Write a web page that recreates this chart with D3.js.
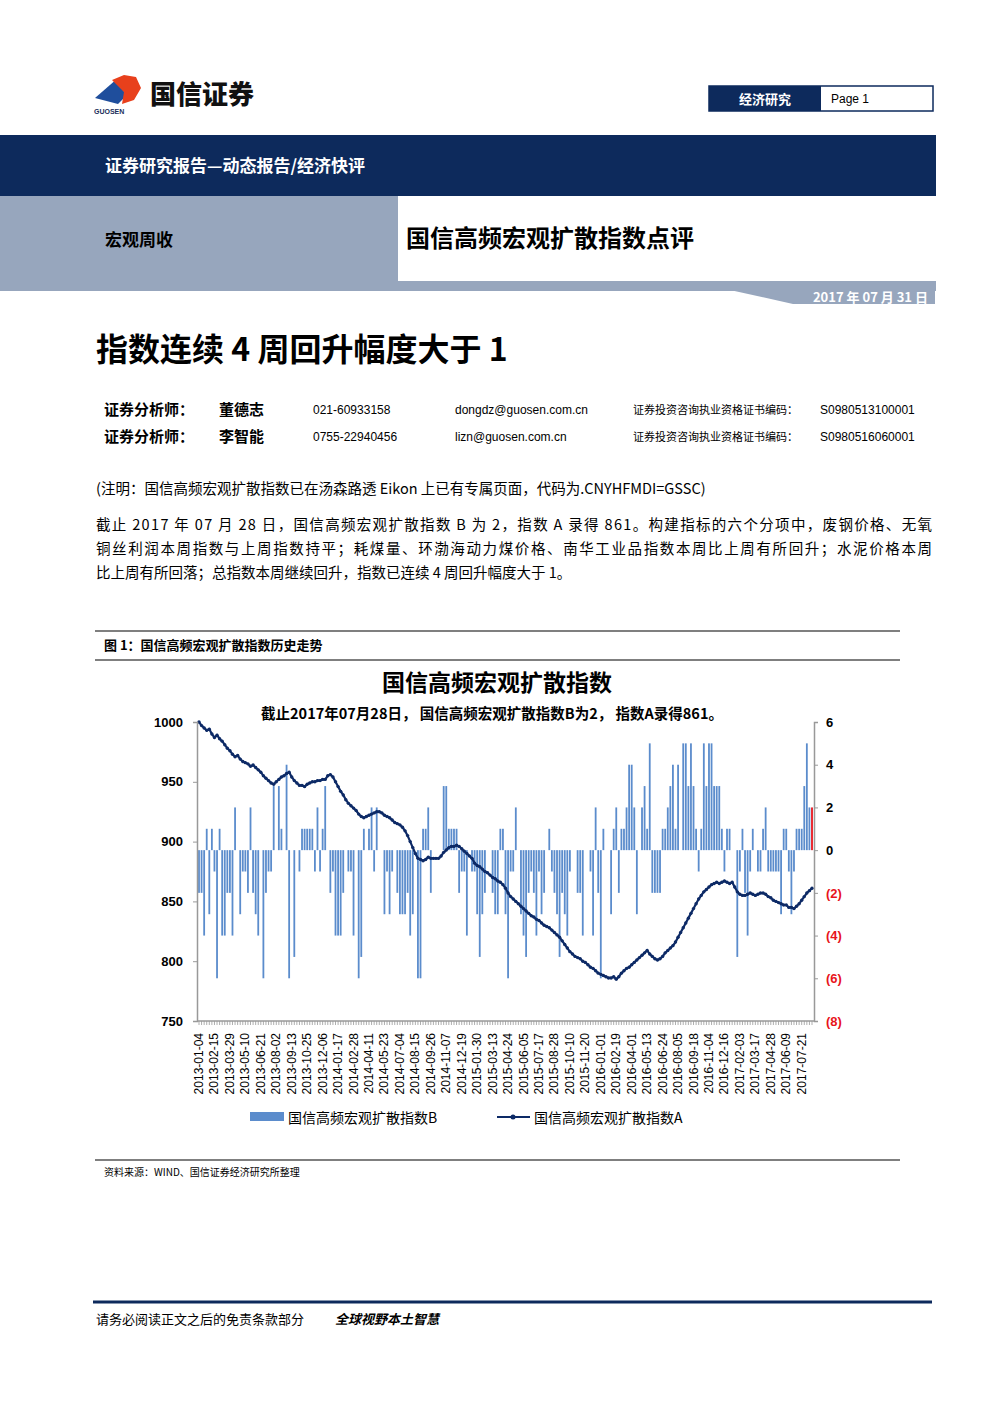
<!DOCTYPE html>
<html>
<head>
<meta charset="utf-8">
<script src="https://cdn.jsdelivr.net/npm/d3@7/dist/d3.min.js"></script>
<style>
  body { margin: 0; background: #fff; }
  svg text { font-family: "Noto Sans CJK SC", "Liberation Sans", sans-serif; }
  .latin { font-family: "Liberation Sans", Arial, sans-serif !important; }
</style>
</head>
<body>
<div id="page"></div>
<script>
// 指数A weekly values, 2013-01-04 .. 2017-07-28
const indexA = [
  1000,997,995,993,994,990,987,989,986,984,
  981,978,976,973,971,972,969,967,966,965,
  963,964,962,960,958,955,953,951,949,948,
  950,952,954,955,957,958,954,951,949,947,
  947,946,948,949,950,950,951,951,952,952,
  955,956,954,950,946,942,939,935,932,930,
  928,926,923,921,920,921,922,923,924,925,
  925,924,922,921,920,918,916,915,914,912,
  909,905,900,895,890,886,885,884,885,887,
  886,886,886,886,888,891,893,895,896,896,
  897,896,894,892,890,888,886,882,880,879,
  877,875,874,872,870,869,867,866,864,861,
  857,854,852,850,848,846,844,842,840,838,
  837,835,834,832,830,829,828,826,824,822,
  820,817,814,811,808,806,804,803,802,800,
  799,797,795,794,792,790,789,788,787,786,
  786,787,785,787,790,792,794,795,797,799,
  801,803,805,807,809,806,804,802,801,802,
  804,807,809,811,813,816,820,824,828,832,
  836,840,844,848,852,855,858,860,862,864,
  865,866,865,866,867,866,865,866,862,858,
  856,855,855,856,857,856,855,856,857,857,
  856,854,853,851,850,849,848,847,847,845,
  845,844,846,848,851,854,857,859,861
];
// 指数B weekly values
const indexB = [
  -2,-2,-4,1,-3,1,-1,-6,1,-4,
  -4,-2,-2,-4,2,0,-3,-1,-1,-2,
  2,-2,-3,-4,0,-6,-2,-1,-1,3,
  0,3,1,0,4,-6,0,-5,0,-1,
  1,1,1,1,1,-1,2,-1,1,3,
  0,-2,-1,-4,-4,-4,-2,0,-1,-1,
  -4,0,-6,-5,1,0,1,2,-1,2,
  0,0,-3,-1,-3,-1,0,-2,-3,-3,
  -3,-2,-4,-3,0,-6,-6,1,1,2,
  -2,0,0,0,0,3,3,1,1,1,1,
  -2,-1,-1,-4,0,-1,-1,-3,-5,-3,
  -2,0,0,-2,-3,-3,1,1,-3,-6,
  -1,-1,2,0,-3,-4,-5,-2,-1,-2,
  -4,-1,-3,-2,0,1,-1,-2,-3,-5,
  -2,-3,-4,-1,0,0,-2,-2,-4,0,0,
  -1,-4,2,-2,-6,1,0,0,-3,1,
  2,-2,1,1,2,4,4,2,-3,0,
  2,3,1,5,-2,-2,-2,-2,1,1,
  2,3,4,1,4,0,5,5,3,5,
  3,1,-1,1,5,3,5,5,3,3,
  3,1,-1,1,1,0,0,-5,-1,1,-2,
  -4,-1,1,0,-1,-1,1,2,-1,-1,
  -1,-1,-1,-3,1,1,-1,-3,-1,1,
  1,1,3,5,2,2
];
const tickLabels = [
  "2013-01-04","2013-02-15","2013-03-29","2013-05-10","2013-06-21","2013-08-02",
  "2013-09-13","2013-10-25","2013-12-06","2014-01-17","2014-02-28","2014-04-11",
  "2014-05-23","2014-07-04","2014-08-15","2014-09-26","2014-11-07","2014-12-19",
  "2015-01-30","2015-03-13","2015-04-24","2015-06-05","2015-07-17","2015-08-28",
  "2015-10-10","2015-11-20","2016-01-01","2016-02-19","2016-04-01","2016-05-13",
  "2016-06-24","2016-08-05","2016-09-18","2016-11-04","2016-12-16","2017-02-03",
  "2017-03-17","2017-04-28","2017-06-09","2017-07-21"
];
const leftTicks = [750, 800, 850, 900, 950, 1000];
const rightTicks = [-8, -6, -4, -2, 0, 2, 4, 6];

const W = 993, H = 1404;
const svg = d3.select("#page").append("svg").attr("width", W).attr("height", H);

// ---- page header ----
// logo
svg.append("path").attr("d", "M95,98 L118,78 L126,96 L118,104 Z").attr("fill", "#1f4e9c");
svg.append("path").attr("d", "M112,80 L124,75 L136,77 L141,88 L134,100 L122,104 L124,92 Z").attr("fill", "#e8401c");
svg.append("text").attr("x", 94).attr("y", 114).attr("font-size", 7).attr("font-weight", "bold")
  .attr("class", "latin").attr("fill", "#1a2e5a").text("GUOSEN");
svg.append("text").attr("x", 150).attr("y", 104).attr("font-size", 26).attr("font-weight", 900)
  .attr("fill", "#111").text("国信证券");

svg.append("rect").attr("x", 709).attr("y", 86).attr("width", 224).attr("height", 25)
  .attr("fill", "#fff").attr("stroke", "#0d2a5c").attr("stroke-width", 1.5);
svg.append("rect").attr("x", 709).attr("y", 86).attr("width", 112).attr("height", 25).attr("fill", "#0d2a5c");
svg.append("text").attr("x", 765).attr("y", 104).attr("text-anchor", "middle").attr("font-size", 13)
  .attr("font-weight", "bold").attr("fill", "#fff").text("经济研究");
svg.append("text").attr("x", 831).attr("y", 103).attr("font-size", 12).attr("class", "latin").text("Page 1");

svg.append("rect").attr("x", 0).attr("y", 135).attr("width", 936).attr("height", 61).attr("fill", "#0d2a5c");
svg.append("text").attr("x", 105).attr("y", 172).attr("font-size", 17).attr("font-weight", "bold")
  .attr("fill", "#fff").text("证券研究报告—动态报告/经济快评");
svg.append("rect").attr("x", 0).attr("y", 196).attr("width", 936).attr("height", 95).attr("fill", "#97a6bd");
svg.append("rect").attr("x", 398).attr("y", 196).attr("width", 538).attr("height", 85).attr("fill", "#fff");
svg.append("path").attr("d", "M730,290 L793,304 L935,304 L935,290 Z").attr("fill", "#97a6bd");
svg.append("text").attr("x", 105).attr("y", 246).attr("font-size", 17).attr("font-weight", "bold").text("宏观周收");
svg.append("text").attr("x", 406).attr("y", 247).attr("font-size", 24).attr("font-weight", "bold").text("国信高频宏观扩散指数点评");
svg.append("text").attr("x", 928).attr("y", 302).attr("text-anchor", "end").attr("font-size", 13)
  .attr("font-weight", "bold").attr("fill", "#fff").text("2017 年 07 月 31 日");

svg.append("text").attr("x", 96).attr("y", 361).attr("font-size", 32).attr("font-weight", "bold")
  .text("指数连续 4 周回升幅度大于 1");

[[410, "董德志", "021-60933158", "dongdz@guosen.com.cn", "S0980513100001"],
 [437, "李智能", "0755-22940456", "lizn@guosen.com.cn", "S0980516060001"]].forEach(r => {
  svg.append("text").attr("x", 104).attr("y", r[0] + 5).attr("font-size", 15).attr("font-weight", "bold").text("证券分析师：");
  svg.append("text").attr("x", 219).attr("y", r[0] + 5).attr("font-size", 15).attr("font-weight", "bold").text(r[1]);
  svg.append("text").attr("x", 313).attr("y", r[0] + 4).attr("font-size", 12).attr("class", "latin").text(r[2]);
  svg.append("text").attr("x", 455).attr("y", r[0] + 4).attr("font-size", 12).attr("class", "latin").text(r[3]);
  svg.append("text").attr("x", 633).attr("y", r[0] + 4).attr("font-size", 11).text("证券投资咨询执业资格证书编码：");
  svg.append("text").attr("x", 820).attr("y", r[0] + 4).attr("font-size", 12).attr("class", "latin").text(r[4]);
});

svg.append("text").attr("x", 96).attr("y", 494).attr("font-size", 14.5)
  .text("(注明：国信高频宏观扩散指数已在汤森路透 Eikon 上已有专属页面，代码为.CNYHFMDI=GSSC)");
["截止 2017 年 07 月 28 日，国信高频宏观扩散指数 B 为 2，指数 A 录得 861。构建指标的六个分项中，废钢价格、无氧",
 "铜丝利润本周指数与上周指数持平；耗煤量、环渤海动力煤价格、南华工业品指数本周比上周有所回升；水泥价格本周",
 "比上周有所回落；总指数本周继续回升，指数已连续 4 周回升幅度大于 1。"].forEach((t, i) => {
  svg.append("text").attr("x", 96).attr("y", 530 + i * 24).attr("font-size", 14.5)
    .attr("textLength", i < 2 ? 836 : null).text(t);
});

// ---- figure frame ----
svg.append("line").attr("x1", 95).attr("x2", 900).attr("y1", 631).attr("y2", 631).attr("stroke", "#000").attr("stroke-width", 1.2);
svg.append("line").attr("x1", 95).attr("x2", 900).attr("y1", 660).attr("y2", 660).attr("stroke", "#000").attr("stroke-width", 1.2);
svg.append("line").attr("x1", 95).attr("x2", 900).attr("y1", 1160).attr("y2", 1160).attr("stroke", "#000").attr("stroke-width", 1.2);
svg.append("text").attr("x", 104).attr("y", 650).attr("font-size", 13).attr("font-weight", "bold").text("图 1：国信高频宏观扩散指数历史走势");
svg.append("text").attr("x", 104).attr("y", 1176).attr("font-size", 10).text("资料来源：WIND、国信证券经济研究所整理");

svg.append("text").attr("x", 497).attr("y", 691).attr("text-anchor", "middle").attr("font-size", 23)
  .attr("font-weight", "bold").text("国信高频宏观扩散指数");
svg.append("text").attr("x", 492).attr("y", 719).attr("text-anchor", "middle").attr("font-size", 14.5)
  .attr("font-weight", "bold").text("截止2017年07月28日， 国信高频宏观扩散指数B为2， 指数A录得861。");

// ---- chart ----
const plot = { left: 197, right: 814, top: 722, bottom: 1021 };
const n = indexA.length;
const x = d3.scaleLinear().domain([0, n - 1]).range([plot.left + 2, plot.right - 2]);
const yL = d3.scaleLinear().domain([750, 1000]).range([plot.bottom, plot.top]);
const yR = d3.scaleLinear().domain([-8, 6]).range([plot.bottom, plot.top]);

const g = svg.append("g");

// bars
g.selectAll(".bar").data(indexB.slice(0, n)).enter().append("rect")
  .attr("x", (d, i) => x(i) - 0.9)
  .attr("width", 1.8)
  .attr("y", d => yR(Math.max(0, d)))
  .attr("height", d => Math.abs(yR(d) - yR(0)))
  .attr("fill", (d, i) => i === n - 1 ? "#e8141c" : "#5b8ccc");

// line
const line = d3.line().x((d, i) => x(i)).y(d => yL(d));
g.append("path").datum(indexA).attr("d", line).attr("fill", "none")
  .attr("stroke", "#0d2a66").attr("stroke-width", 2.2);
g.selectAll(".pt").data(indexA).enter().append("circle")
  .attr("cx", (d, i) => x(i)).attr("cy", d => yL(d)).attr("r", 1.7).attr("fill", "#0d2a66");

// axes
const axL = svg.append("g").attr("transform", `translate(${plot.left},0)`)
  .call(d3.axisLeft(yL).tickValues(leftTicks).tickSize(4).tickFormat(d3.format("d")));
const axR = svg.append("g").attr("transform", `translate(${plot.right},0)`)
  .call(d3.axisRight(yR).tickValues(rightTicks).tickSize(4).tickFormat(d => d < 0 ? `(${-d})` : d));
[axL, axR].forEach(a => {
  a.select(".domain").attr("stroke", "#999").attr("stroke-width", 1.5);
  a.selectAll(".tick line").attr("stroke", "#999");
  a.selectAll("text").attr("class", "latin").attr("font-size", 13).attr("font-weight", "bold");
});
axL.selectAll("text").attr("x", -14).attr("fill", "#000");
axR.selectAll("text").attr("x", 12).attr("fill", d => d < 0 ? "#e8141c" : "#000");

// x axis
const xAx = svg.append("g").attr("transform", `translate(0,${plot.bottom})`);
xAx.append("line").attr("x1", plot.left).attr("x2", plot.right).attr("stroke", "#999").attr("stroke-width", 1.5);
xAx.selectAll(".t").data(d3.range(n)).enter().append("line")
  .attr("x1", i => x(i)).attr("x2", i => x(i)).attr("y1", 0).attr("y2", 4).attr("stroke", "#999").attr("stroke-width", 0.8);
xAx.selectAll(".lab").data(tickLabels).enter().append("text")
  .attr("class", "latin")
  .attr("transform", (d, i) => `translate(${x(i * 6) + 4},${12}) rotate(-90)`)
  .attr("text-anchor", "end").attr("font-size", 12).text(d => d);

// legend
svg.append("rect").attr("x", 250).attr("y", 1112).attr("width", 34).attr("height", 9).attr("fill", "#5b8ccc");
svg.append("text").attr("x", 288).attr("y", 1123).attr("font-size", 14).text("国信高频宏观扩散指数B");
svg.append("line").attr("x1", 497).attr("x2", 530).attr("y1", 1117).attr("y2", 1117).attr("stroke", "#0d2a66").attr("stroke-width", 2);
svg.append("circle").attr("cx", 513).attr("cy", 1117).attr("r", 2.5).attr("fill", "#0d2a66");
svg.append("text").attr("x", 534).attr("y", 1123).attr("font-size", 14).text("国信高频宏观扩散指数A");

// footer
svg.append("line").attr("x1", 93).attr("x2", 932).attr("y1", 1302).attr("y2", 1302).attr("stroke", "#0d2a5c").attr("stroke-width", 3);
svg.append("text").attr("x", 96).attr("y", 1324).attr("font-size", 13).text("请务必阅读正文之后的免责条款部分");
svg.append("text").attr("x", 335).attr("y", 1324).attr("font-size", 13).attr("font-weight", "bold")
  .attr("font-style", "italic").text("全球视野本土智慧");
</script>
</body>
</html>
